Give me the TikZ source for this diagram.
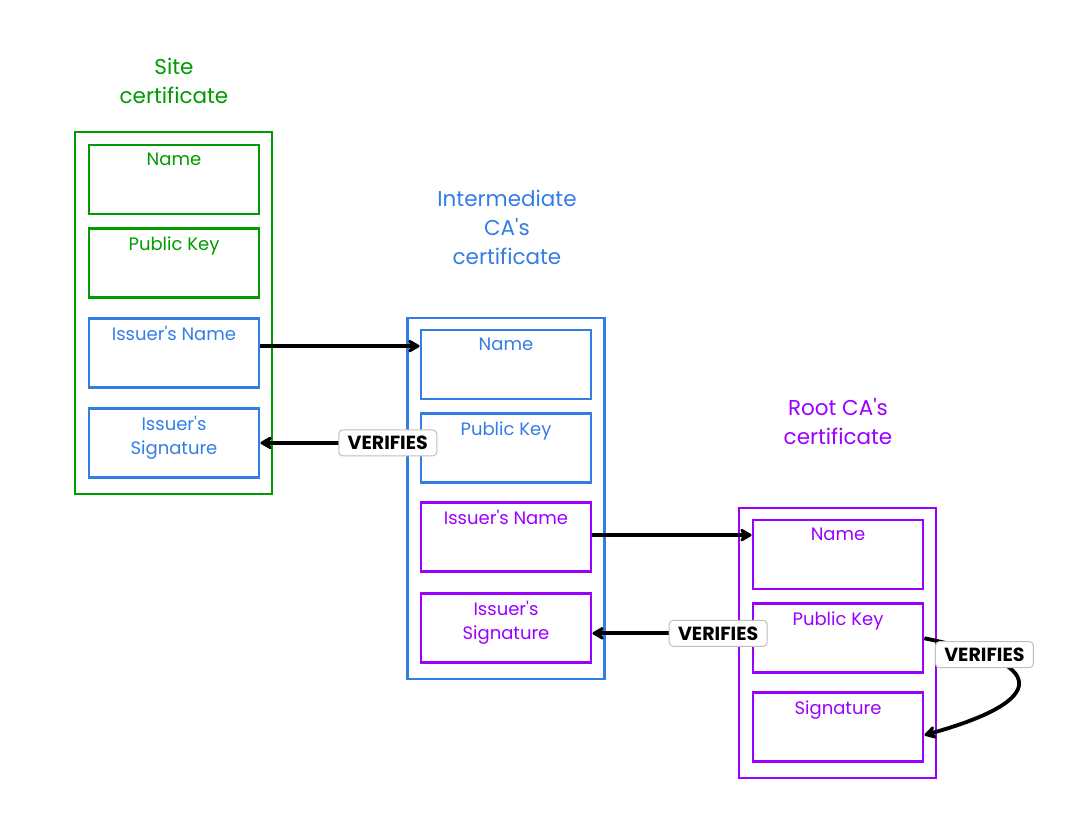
\documentclass[tikz,border=0pt]{standalone}
\usepackage{fontspec}
\setmainfont{Poppins}
\usetikzlibrary{positioning,arrows.meta}
\definecolor{sitegreen}{RGB}{0,155,0}
\definecolor{cablue}{RGB}{51,125,230}
\definecolor{rootpurple}{RGB}{155,0,255}
\newcommand{\apos}{\textquotesingle}
\tikzset{
  outer/.style={draw, line width=2.8pt, minimum width=197pt, inner sep=0pt},
  field/.style={draw, line width=2.8pt, minimum width=170pt, minimum height=69pt, inner sep=0pt},
  title/.style={align=center, font=\fontsize{21.5}{29}\selectfont},
  ftext/.style={anchor=north, inner sep=0pt, yshift=-9pt, align=center,
    font=\fontsize{18}{24}\selectfont},
  link/.style={line width=3.8pt, -{Stealth[length=14pt,width=16pt,inset=4pt,round]}},
  verif/.style={draw=black!25, fill=white, rounded corners=4pt, line width=1pt,
    text=black, minimum width=98pt, minimum height=26pt, inner sep=2pt,
    font=\bfseries\fontsize{19}{19}\selectfont}
}

\begin{document}
\begin{tikzpicture}[x=1pt, y=-1pt]
  \useasboundingbox (0,0) rectangle (1089,821);

  % site certificate
  \node[title, text=sitegreen] (sitettl) at (174,81) {Site\\certificate};
  \node[outer, draw=sitegreen, minimum height=362pt] (site) at (173.5,313) {};
  \node[field, draw=sitegreen, label={[ftext, text=sitegreen]north:Name}] (sname) at (174,179.5) {};
  \node[field, draw=sitegreen, label={[ftext, text=sitegreen]north:Public Key}] (skey) [below=12pt of sname] {};
  \node[field, draw=cablue, label={[ftext, text=cablue]north:Issuer\apos s Name}] (sissuer) [below=18pt of skey] {};
  \node[field, draw=cablue, label={[ftext, text=cablue]north:Issuer\apos s\\Signature}] (ssig) [below=18pt of sissuer] {};

  % intermediate CA's certificate
  \node[title, text=cablue] (intttl) at (507,227) {Intermediate\\CA\apos s\\certificate};
  \node[outer, draw=cablue, minimum height=361pt] (inter) at (506,498.5) {};
  \node[field, draw=cablue, label={[ftext, text=cablue]north:Name}] (iname) at (506,364.5) {};
  \node[field, draw=cablue, label={[ftext, text=cablue]north:Public Key}] (ikey) [below=12pt of iname] {};
  \node[field, draw=rootpurple, label={[ftext, text=rootpurple]north:Issuer\apos s Name}] (iissuer) [below=17pt of ikey] {};
  \node[field, draw=rootpurple, label={[ftext, text=rootpurple]north:Issuer\apos s\\Signature}] (isig) [below=19pt of iissuer] {};

  % root CA's certificate
  \node[title, text=rootpurple] (rootttl) at (838,422) {Root CA\apos s\\certificate};
  \node[outer, draw=rootpurple, minimum height=270pt] (root) at (837.5,643) {};
  \node[field, draw=rootpurple, label={[ftext, text=rootpurple]north:Name}] (rname) at (838,554.5) {};
  \node[field, draw=rootpurple, label={[ftext, text=rootpurple]north:Public Key}] (rkey) [below=12pt of rname] {};
  \node[field, draw=rootpurple, label={[ftext, text=rootpurple]north:Signature}] (rsig) [below=17pt of rkey] {};

  % links
  \draw[link] ([yshift=7pt]sissuer.east) -- ([yshift=7pt]sissuer.east -| iname.west);
  \draw[link] (ikey.west |- ssig.east) -- (ssig.east) node[pos=0.2, verif] {VERIFIES};
  \draw[link] ([yshift=2pt]iissuer.east) -- ([yshift=2pt]iissuer.east -| rname.west);
  \draw[link] ([yshift=5pt]rkey.west) -- ([yshift=5pt]rkey.west -| isig.east) node[pos=0.21, verif] {VERIFIES};
  \draw[link] (rkey.east) .. controls +(125,25) and +(125,-35) .. ([yshift=-8pt]rsig.east) node[pos=0.2, verif] {VERIFIES};
\end{tikzpicture}
\end{document}
